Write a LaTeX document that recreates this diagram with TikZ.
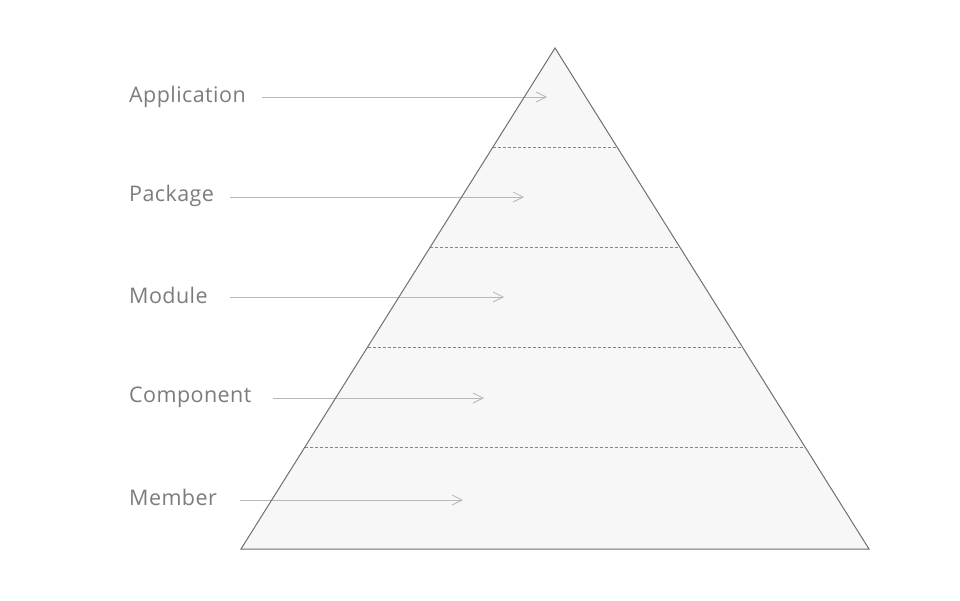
\documentclass[tikz,border=0pt]{standalone}
\usepackage{fontspec}
\setmainfont{Open Sans}[LetterSpace=2]
\usetikzlibrary{arrows.meta}
\definecolor{txt}{HTML}{7C7C7C}
\definecolor{edge}{HTML}{707070}
\definecolor{fillc}{HTML}{F7F7F7}
\definecolor{arr}{HTML}{B8B8B8}
\definecolor{dash}{HTML}{858585}
\tikzset{
  lbl/.style={anchor=base west, inner sep=0pt, text=txt, font=\fontsize{21.5}{25}\selectfont},
  pointer/.style={draw=arr, line width=1pt, -{Straight Barb[length=10pt,width=10pt,line width=0.8pt]}},
  layer/.style={draw=dash, line width=0.8pt, dash pattern=on 3pt off 2pt},
  pyr/.style={draw=edge, line width=1pt, line join=miter}
}
\begin{document}
\begin{tikzpicture}[x=1pt,y=-1pt]
\useasboundingbox (0,0) rectangle (960,600);
\coordinate (top) at (555,48);
\coordinate (bl) at (241,549);
\coordinate (br) at (869,549);
\fill[fillc] (top) -- (bl) -- (br) -- cycle;
% layer boundaries
\foreach \yy [count=\i] in {147,247,347,447}{
  \pgfmathsetmacro{\dx}{(\yy-48)/501*314}
  \coordinate (l\i) at ({555-\dx},\yy);
  \coordinate (r\i) at ({555+\dx},\yy);
  \draw[layer] (l\i) -- (r\i);
}
% labels
\node[lbl] (app) at (129,102) {Application};
\node[lbl] (pkg) at (129,201) {Package};
\node[lbl] (mod) at (129,303) {Module};
\node[lbl] (cmp) at (129,402) {Component};
\node[lbl] (mem) at (129,505) {Member};
% arrow coordinates
\coordinate (s1) at (262,97);  \coordinate (e1) at (547,97);
\coordinate (s2) at (230,197); \coordinate (e2) at (524,197);
\coordinate (s3) at (230,297); \coordinate (e3) at (504,297);
\coordinate (s4) at (273,398); \coordinate (e4) at (484,398);
\coordinate (s5) at (240,500); \coordinate (e5) at (463,500);
\foreach \i in {1,...,5}{\draw[pointer] (s\i) -- (e\i);}
\draw[pyr] (top) -- (bl) -- (br) -- cycle;
\end{tikzpicture}
\end{document}
